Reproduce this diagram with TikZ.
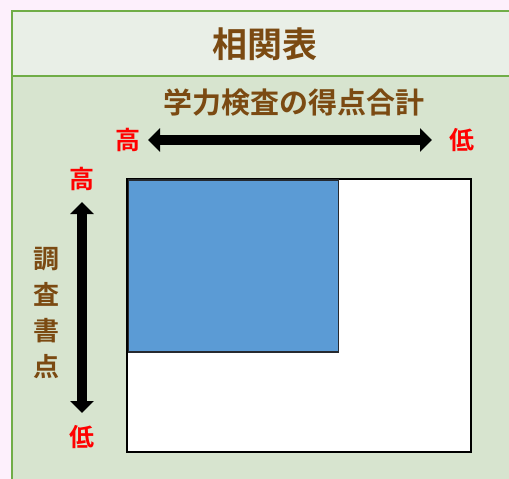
\documentclass[tikz,border=0pt]{standalone}
\usepackage{fontspec}
\setmainfont{Noto Sans CJK JP}[BoldFont={Noto Sans CJK JP Bold}]
\usetikzlibrary{arrows.meta}
\definecolor{bgpink}{HTML}{FDF0FC}
\definecolor{frgreen}{HTML}{70AD47}
\definecolor{titlefill}{HTML}{E9EFE7}
\definecolor{bodyfill}{HTML}{D7E4CF}
\definecolor{brownt}{HTML}{7B4A12}
\definecolor{bluefill}{HTML}{5B9BD5}
\definecolor{blueedge}{HTML}{262A30}
\definecolor{redt}{HTML}{FF0000}
\tikzset{
  brownlab/.style={text=brownt, font=\bfseries\fontsize{#1}{#1}\selectfont, inner sep=0pt},
  redlab/.style={text=redt, font=\bfseries\fontsize{25}{25}\selectfont, inner sep=0pt},
  bigarrow/.style={line width=9.5pt, {Triangle[width=23pt,length=12pt]}-{Triangle[width=23pt,length=12pt]}},
}
\begin{document}
\begin{tikzpicture}[x=1pt,y=-1pt]
\useasboundingbox (0,0) rectangle (509,479);
\fill[bgpink] (0,0) rectangle (509,479);
% frame
\fill[titlefill] (12,11) rectangle (512,76);
\fill[bodyfill] (12,76) rectangle (512,482);
\draw[frgreen, line width=2pt] (512,11) -- (12,11) -- (12,482);
\draw[frgreen, line width=2pt] (12,76) -- (512,76);
% title
\node[brownlab=35] (title) at (265,44) {相関表};
\node[brownlab=29] (sub) at (294,102) {学力検査の得点合計};
% horizontal axis
\node[redlab] (hhi) at (128,140) {高};
\node[redlab] (hlo) at (462,140) {低};
\coordinate (ha) at (148,140);
\coordinate (hb) at (432,140);
\draw[bigarrow] (ha) -- (hb);
% vertical axis
\node[redlab] (vhi) at (82,179) {高};
\node[redlab] (vlo) at (82,437) {低};
\coordinate (va) at (82,202);
\coordinate (vb) at (82,413);
\draw[bigarrow] (va) -- (vb);
\node[brownlab=26, align=center, font=\bfseries\fontsize{26}{36}\selectfont] (vlab) at (47,313) {調\\査\\書\\点};
% chart
\node[draw=black, line width=2pt, fill=white, minimum width=344pt, minimum height=273pt, inner sep=0pt, anchor=north west] (chart) at (126,178) {};
\node[draw=blueedge, line width=1.5pt, fill=bluefill, minimum width=210pt, minimum height=172pt, inner sep=0pt, anchor=north west] (quad) at (127.5,179) {};
\end{tikzpicture}
\end{document}
